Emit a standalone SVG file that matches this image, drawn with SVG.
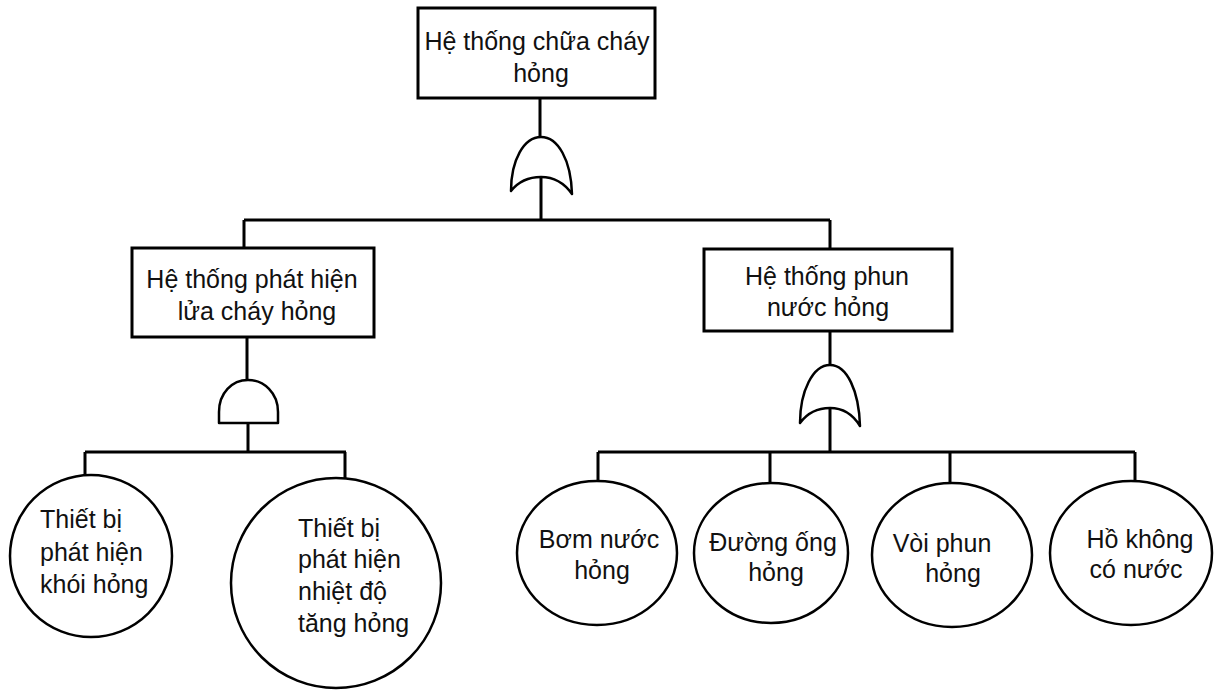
<svg xmlns="http://www.w3.org/2000/svg" width="1217" height="690" viewBox="0 0 1217 690">
<style>
.box{fill:#fff;stroke:#000;stroke-width:3}
.ev{fill:#fff;stroke:#000;stroke-width:2.5}
.gate{fill:#fff;stroke:#000;stroke-width:2.5;stroke-linejoin:round}
.ln{fill:none;stroke:#000;stroke-width:3}
text{font-family:"Liberation Sans",Arial,sans-serif;font-size:25px;fill:#111}
.c{text-anchor:middle}
</style>
<rect width="1217" height="690" fill="#fff"/>
<g id="connectors">
<path class="ln" d="M540,98 V140 M541,178 V220 M244,220 H830 M244,220 V248 M830,220 V249"/>
<path class="ln" d="M247,337 V382 M248,423 V452 M85,452 H346 M85,452 V476 M345,452 V479"/>
<path class="ln" d="M830,331 V368 M830,409 V452 M598,452 H1135 M598,452 V482 M770,452 V483 M950,452 V483 M1135,452 V482"/>
</g>
<g id="top">
<rect class="box" x="418" y="8" width="237" height="90"/>
<text class="c" x="537" y="50">Hệ thống chữa cháy</text>
<text class="c" x="541" y="82">hỏng</text>
</g>
<g id="gate-top">
<path class="gate" d="M511,191 C511,160 524,137 541,137 C558,137 571,160 572,194 Q560,177 541,177 Q522,177 511,191 Z"/>
</g>
<g id="detect">
<rect class="box" x="132" y="248" width="242" height="89"/>
<text class="c" x="252" y="288">Hệ thống phát hiện</text>
<text class="c" x="257" y="320">lửa cháy hỏng</text>
</g>
<g id="spray">
<rect class="box" x="704" y="249" width="248" height="82"/>
<text class="c" x="827" y="285">Hệ thống phun</text>
<text class="c" x="828" y="316">nước hỏng</text>
</g>
<g id="gate-and">
<path class="gate" d="M219,423 L219,412 C219,393 232,380 248,380 C264,380 278,393 278,412 L278,423 Z"/>
</g>
<g id="gate-or2">
<path class="gate" d="M800,423 C800,391 813,365 830,365 C847,365 859,391 860,426 Q849,408 830,408 Q811,408 800,423 Z"/>
</g>
<g id="smoke">
<ellipse class="ev" cx="91" cy="556" rx="81" ry="81"/>
<text x="40" y="528">Thiết bị</text>
<text x="40" y="561">phát hiện</text>
<text x="40" y="593">khói hỏng</text>
</g>
<g id="heat">
<ellipse class="ev" cx="336" cy="583" rx="105" ry="105"/>
<text x="298" y="537">Thiết bị</text>
<text x="298" y="568">phát hiện</text>
<text x="298" y="600">nhiệt độ</text>
<text x="298" y="632">tăng hỏng</text>
</g>
<g id="pump">
<ellipse class="ev" cx="597" cy="553" rx="80" ry="72"/>
<text class="c" x="599" y="548">Bơm nước</text>
<text class="c" x="602" y="579">hỏng</text>
</g>
<g id="pipe">
<ellipse class="ev" cx="771" cy="553" rx="77" ry="70"/>
<text class="c" x="773" y="551">Đường ống</text>
<text class="c" x="776" y="581">hỏng</text>
</g>
<g id="nozzle">
<ellipse class="ev" cx="952" cy="555" rx="80" ry="72"/>
<text class="c" x="942" y="552">Vòi phun</text>
<text class="c" x="953" y="582">hỏng</text>
</g>
<g id="pond">
<ellipse class="ev" cx="1131" cy="553" rx="81" ry="72"/>
<text class="c" x="1140" y="548">Hồ không</text>
<text class="c" x="1136" y="578">có nước</text>
</g>
</svg>
